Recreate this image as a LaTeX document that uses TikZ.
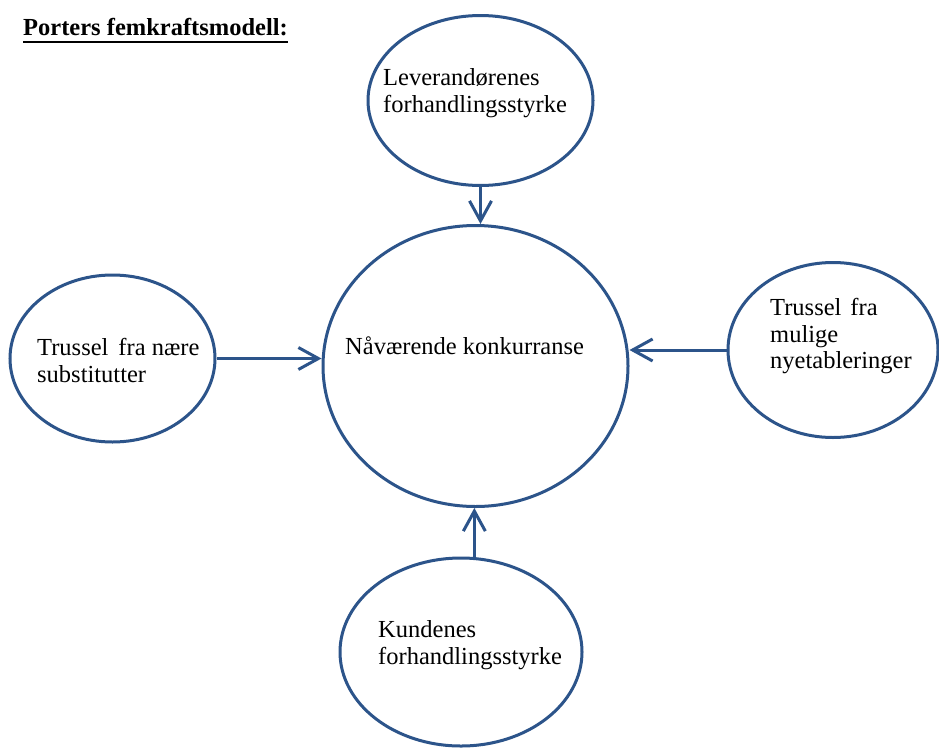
\documentclass[tikz,border=0pt]{standalone}
\usepackage{fontspec}
\setmainfont{Liberation Serif}
\usetikzlibrary{shapes.geometric,arrows.meta}
\definecolor{shapeblue}{RGB}{44,84,138}
\begin{document}
\begin{tikzpicture}[x=1pt,y=-1pt,
  force/.style={ellipse,draw=shapeblue,line width=3pt,inner sep=0pt,fill=white},
  lbl/.style={anchor=north west,inner sep=0pt,align=left,font=\fontsize{24.5}{26.5}\selectfont,text=black},
  conn/.style={draw=shapeblue,line width=3pt,-{Straight Barb[length=20pt,width=22pt]}}
]
\useasboundingbox[fill=white] (0,0) rectangle (939,747);
% title
\node[anchor=base west,inner sep=0pt,font=\fontsize{24.5}{26.5}\selectfont\bfseries] (title) at (23,35) {Porters femkraftsmodell:};
\draw[line width=2pt] ([yshift=-7pt]title.base west) -- ([yshift=-7pt]title.base east);
% ellipses
\node[force,minimum width=225pt,minimum height=170pt] (sup) at (480.5,100.5) {};
\node[force,minimum width=305pt,minimum height=281pt] (mid) at (475.5,366) {};
\node[force,minimum width=205pt,minimum height=167pt] (sub) at (112.5,358.5) {};
\node[force,minimum width=210pt,minimum height=175pt] (new) at (833,350) {};
\node[force,minimum width=242pt,minimum height=188pt] (cus) at (461,652) {};
% texts
\node[lbl] (tsup) at (383,68.5) {Leverandørenes\\forhandlingsstyrke};
\node[lbl] (tmid) at (345,336.5) {Nåværende konkurranse};
\node[lbl] (tsub) at (37,338.5) {Trussel\hspace{10pt}fra nære\\substitutter};
\node[lbl] (tnew) at (770,298.5) {Trussel\hspace{9pt}fra\\mulige\\nyetableringer};
\node[lbl] (tcus) at (378,620.5) {Kundenes\\forhandlingsstyrke};
% connectors
\draw[conn] (sup.south) -- (sup.south |- mid.north);
\draw[conn] (sub.east) -- (sub.east -| mid.west);
\draw[conn] (new.west) -- (new.west -| mid.east);
\draw[conn] (cus.82) -- (cus.82 |- mid.south);
\end{tikzpicture}
\end{document}
